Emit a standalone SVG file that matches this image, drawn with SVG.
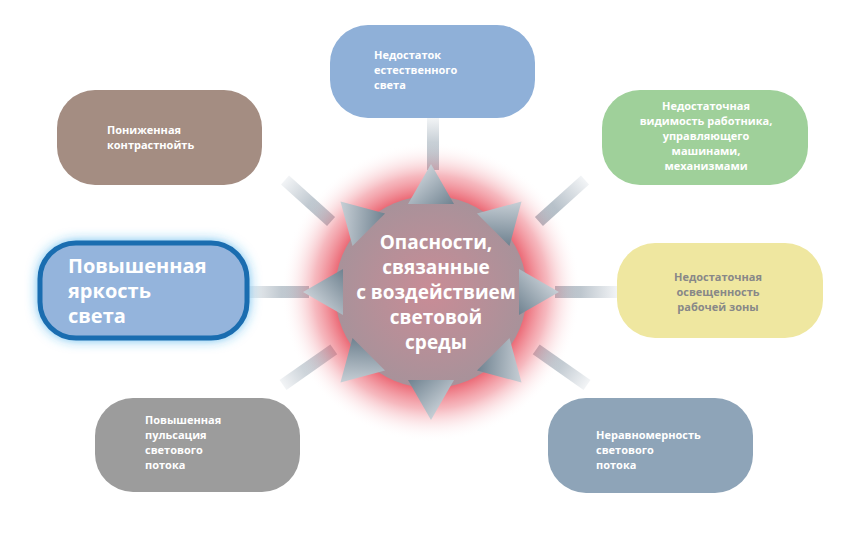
<svg xmlns="http://www.w3.org/2000/svg" width="850" height="533" viewBox="0 0 850 533">
<defs>
<radialGradient id="glow" cx="0.5" cy="0.5" r="0.5">
<stop offset="0.6" stop-color="#e8505e"/><stop offset="0.78" stop-color="#f08a94" stop-opacity="0.6"/><stop offset="1" stop-color="#fff" stop-opacity="0"/>
</radialGradient>
<radialGradient id="core" cx="0.5" cy="0.5" r="0.5">
<stop offset="0" stop-color="#c98c96"/><stop offset="1" stop-color="#a8929a"/>
</radialGradient>
<linearGradient id="tri" x1="0" y1="0" x2="1" y2="1">
<stop offset="0" stop-color="#e6eaee"/><stop offset="1" stop-color="#6f8290"/>
</linearGradient>
<linearGradient id="bar" x1="0" y1="0" x2="1" y2="0">
<stop offset="0" stop-color="#f2f4f6"/><stop offset="1" stop-color="#98a6b2"/>
</linearGradient>
<linearGradient id="barv" x1="0" y1="0" x2="0" y2="1">
<stop offset="0" stop-color="#f2f4f6"/><stop offset="1" stop-color="#98a6b2"/>
</linearGradient>
<filter id="blue" x="-20%" y="-30%" width="140%" height="160%"><feGaussianBlur stdDeviation="7"/></filter>
<g id="t"><polygon points="0,-128 -23,-88 23,-88"/></g>
</defs>
<style>
.n{font-family:"Open Sans","DejaVu Sans",sans-serif;font-weight:bold;font-size:11px;fill:#fff}
.c{font-family:"Open Sans","DejaVu Sans",sans-serif;font-weight:bold;font-size:19px;fill:#fff;text-anchor:middle}
.bar{fill:url(#bar)}
</style>
<rect width="850" height="533" fill="#fff"/>
<g id="connectors">
<rect x="427" y="118" width="12" height="52" fill="url(#barv)"/>
<rect class="bar" x="0" y="-6" width="62" height="12" transform="translate(285,180) rotate(42)"/>
<rect class="bar" x="0" y="-6" width="62" height="12" transform="translate(585,180) rotate(138)"/>
<rect class="bar" x="0" y="-6" width="62" height="12" transform="translate(247,292)"/>
<rect class="bar" x="0" y="-6" width="62" height="12" transform="translate(617,292) rotate(180)"/>
<rect class="bar" x="0" y="-6" width="62" height="12" transform="translate(283,385) rotate(-35)"/>
<rect class="bar" x="0" y="-6" width="62" height="12" transform="translate(587,385) rotate(-145)"/>
</g>
<g id="center">
<circle cx="431" cy="292" r="150" fill="url(#glow)"/>
<circle cx="431" cy="292" r="96" fill="url(#core)"/>
<g fill="url(#tri)" transform="translate(431,292)">
<use href="#t"/><use href="#t" transform="rotate(45)"/><use href="#t" transform="rotate(90)"/><use href="#t" transform="rotate(135)"/>
<use href="#t" transform="rotate(180)"/><use href="#t" transform="rotate(225)"/><use href="#t" transform="rotate(270)"/><use href="#t" transform="rotate(315)"/>
</g>
<text class="c" x="436" y="249">Опасности,</text>
<text class="c" x="436" y="274">связанные</text>
<text class="c" x="436" y="299">с воздействием</text>
<text class="c" x="436" y="324">световой</text>
<text class="c" x="436" y="349">среды</text>
</g>
<g id="n-top">
<rect x="330" y="25" width="205" height="93" rx="38" fill="#8fb0d8"/>
<text class="n" x="374" y="59">Недостаток</text><text class="n" x="374" y="74">естественного</text><text class="n" x="374" y="89">света</text>
</g>
<g id="n-topleft">
<rect x="57" y="90" width="205" height="95" rx="38" fill="#a48d82"/>
<text class="n" x="107" y="134">Пониженная</text><text class="n" x="107" y="149">контрастнойть</text>
</g>
<g id="n-topright">
<rect x="602" y="90" width="206" height="95" rx="38" fill="#9fd09a"/>
<g style="text-anchor:middle">
<text class="n" x="706" y="110">Недостаточная</text><text class="n" x="706" y="125">видимость работника,</text><text class="n" x="706" y="140">управляющего</text><text class="n" x="706" y="155">машинами,</text><text class="n" x="706" y="170">механизмами</text>
</g>
</g>
<g id="n-left">
<rect x="40" y="243" width="207" height="95" rx="36" fill="#2aa3e8" filter="url(#blue)"/>
<rect x="40" y="243" width="207" height="95" rx="36" fill="#94b4dc" stroke="#1a6db0" stroke-width="5"/>
<text class="n" style="font-size:20px" x="68" y="273">Повышенная</text><text class="n" style="font-size:20px" x="68" y="298">яркость</text><text class="n" style="font-size:20px" x="68" y="323">света</text>
</g>
<g id="n-right">
<rect x="617" y="243" width="206" height="95" rx="38" fill="#efe7a0"/>
<g style="text-anchor:middle">
<text class="n" style="fill:#888" x="718" y="281">Недостаточная</text><text class="n" style="fill:#888" x="718" y="296">освещенность</text><text class="n" style="fill:#888" x="718" y="311">рабочей зоны</text>
</g>
</g>
<g id="n-bottomleft">
<rect x="95" y="398" width="205" height="94" rx="38" fill="#9c9c9c"/>
<text class="n" x="145" y="424">Повышенная</text><text class="n" x="145" y="439">пульсация</text><text class="n" x="145" y="454">светового</text><text class="n" x="145" y="469">потока</text>
</g>
<g id="n-bottomright">
<rect x="548" y="398" width="205" height="95" rx="38" fill="#8ea4b8"/>
<text class="n" x="596" y="439">Неравномерность</text><text class="n" x="596" y="454">светового</text><text class="n" x="596" y="469">потока</text>
</g>
</svg>
